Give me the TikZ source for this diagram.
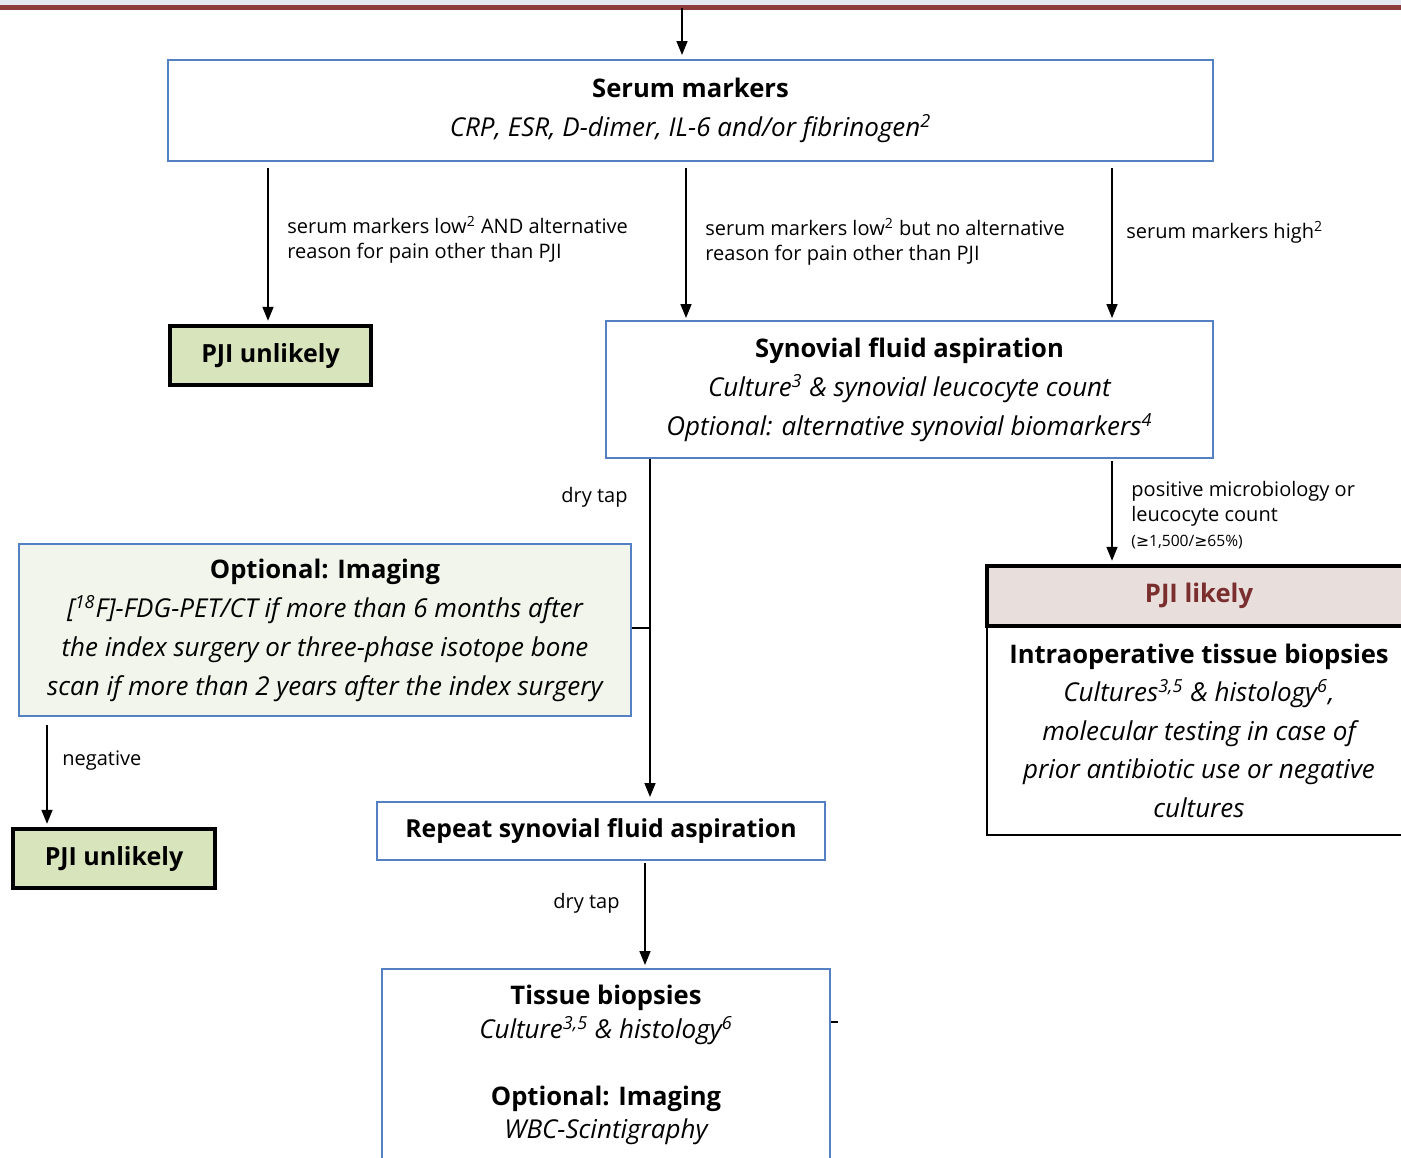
\documentclass[tikz,border=0pt]{standalone}
\usepackage{fontspec}
\setmainfont{Open Sans}
\newfontfamily\symf{DejaVu Sans}
\usetikzlibrary{arrows.meta}
\definecolor{bbord}{RGB}{84,128,196}
\definecolor{gfill}{RGB}{216,228,188}
\definecolor{ifill}{RGB}{242,245,235}
\definecolor{lfill}{RGB}{232,222,220}
\definecolor{ltext}{RGB}{122,46,46}
\definecolor{barred}{RGB}{140,60,60}
\definecolor{bargray}{RGB}{228,232,240}
\newcommand{\ttl}[1]{{\fontsize{12.8}{14}\selectfont\bfseries #1}}
\newcommand{\sups}[1]{\textsuperscript{\fontsize{9}{9}\selectfont #1}}
\tikzset{
  bluebox/.style={draw=bbord, line width=1pt, rectangle, inner sep=0pt, align=center,
    font=\fontsize{13}{19.5}\selectfont},
  greenbox/.style={draw=black, fill=gfill, line width=2.2pt, rectangle, inner sep=0pt,
    font=\fontsize{12.5}{14}\selectfont\bfseries},
  lbl/.style={inner sep=0pt, align=left, font=\fontsize{10}{12.5}\selectfont},
  arr/.style={-{Triangle[length=7pt,width=5.5pt]}, line width=0.8pt},
  plain/.style={line width=0.8pt}
}
\begin{document}
\begin{tikzpicture}[x=0.5pt,y=-0.5pt]
\useasboundingbox (0,0) rectangle (1401,1157);
% top band
\fill[bargray] (0,0) rectangle (1401,5);
\fill[barred] (0,5) rectangle (1401,10);

% boxes
\node[bluebox, minimum width=522.5pt, minimum height=50.5pt] (serum) at (690.5,110.5)
  {\ttl{Serum markers}\\\itshape CRP, ESR, D-dimer, IL-6 and/or fibrinogen\sups{2}};
\node[greenbox, minimum width=100.5pt, minimum height=29.5pt] (unl1) at (270.5,355.5) {PJI unlikely};
\node[bluebox, minimum width=303.5pt, minimum height=68.5pt] (syn) at (909.5,389.5)
  {\ttl{Synovial fluid aspiration}\\\itshape Culture\sups{3} \& synovial leucocyte count\\\itshape Optional: alternative synovial biomarkers\sups{4}};
\node[bluebox, fill=ifill, minimum width=306pt, minimum height=86pt] (img) at (325,630)
  {\ttl{Optional: Imaging}\\\itshape [\sups{18}F]-FDG-PET/CT if more than 6 months after\\\itshape the index surgery or three-phase isotope bone\\\itshape scan if more than 2 years after the index surgery};
\node[greenbox, minimum width=101pt, minimum height=29.5pt] (unl2) at (114,858.5) {PJI unlikely};
\node[bluebox, minimum width=224pt, minimum height=29pt, font=\fontsize{12.4}{14}\selectfont\bfseries] (rep) at (601,831) {Repeat synovial fluid aspiration};
\node[bluebox, minimum width=224pt, minimum height=96pt, font=\fontsize{13}{16.75}\selectfont] (tis) at (606,1065)
  {\ttl{Tissue biopsies}\\\itshape Culture\sups{3,5} \& histology\sups{6}\\[16.75pt]\ttl{Optional: Imaging}\\\itshape WBC-Scintigraphy};
\node[draw=black, line width=1pt, rectangle, inner sep=0pt, align=center, minimum width=212pt, minimum height=104.5pt,
  font=\fontsize{13}{19.25}\selectfont] (intra) at (1199,730.5)
  {\ttl{Intraoperative tissue biopsies}\\\itshape Cultures\sups{3,5} \& histology\sups{6},\\\itshape molecular testing in case of\\\itshape prior antibiotic use or negative\\\itshape cultures};
\node[draw=black, fill=lfill, line width=2.2pt, rectangle, inner sep=0pt, minimum width=212pt, minimum height=30pt,
  text=ltext, font=\fontsize{12.8}{14}\selectfont\bfseries] (likely) at (1199,596) {PJI likely};

% x-positions of connectors
\coordinate (xtop) at (682,8);
\coordinate (xa) at (268,0);
\coordinate (xb) at (686,0);
\coordinate (xc) at (1112,0);
\coordinate (xd) at (650,0);
\coordinate (xe) at (47,0);
\coordinate (xf) at (645,0);

% connectors
\draw[arr] (xtop) -- ([yshift=2pt]xtop |- serum.north);
\draw[arr, shorten <=3pt, shorten >=1.5pt] (serum.south -| xa) -- (unl1.north -| xa);
\draw[arr, shorten <=3pt, shorten >=1pt] (serum.south -| xb) -- (syn.north -| xb);
\draw[arr, shorten <=3pt, shorten >=1pt] (serum.south -| xc) -- (syn.north -| xc);
\draw[arr, shorten >=2pt] (syn.south -| xd) -- (rep.north -| xd);
\draw[plain] ([yshift=1pt]img.east) -- ([yshift=1pt]img.east -| xd);
\draw[arr, shorten <=4pt, shorten >=1.5pt] (img.south -| xe) -- (unl2.north -| xe);
\draw[arr, shorten <=1pt, shorten >=1.5pt] (rep.south -| xf) -- (tis.north -| xf);
\draw[arr, shorten <=1pt, shorten >=1.5pt] (syn.south -| xc) -- (likely.north -| xc);
\coordinate (tick) at (838,1022);
\draw[plain] (tick -| tis.east) -- (tick);

% labels
\node[lbl, anchor=west] (l1) at (287,239.5) {serum markers low\textsuperscript{2} AND alternative\\reason for pain other than PJI};
\node[lbl, anchor=west] (l2) at (705,242) {serum markers low\textsuperscript{2} but no alternative\\reason for pain other than PJI};
\node[lbl, anchor=west] (l3) at (1126,232) {serum markers high\textsuperscript{2}};
\node[lbl, anchor=east] (l4) at (628,497) {dry tap};
\node[lbl, anchor=west] (l5) at (62,761) {negative};
\node[lbl, anchor=east] (l6) at (620,903) {dry tap};
\node[lbl, anchor=west] (l7) at (1131,503.5) {positive microbiology or\\leucocyte count};
\node[lbl, anchor=west, font=\fontsize{7.8}{9}\selectfont] (l8) at (1131,542) {({\symf ≥}1,500/{\symf ≥}65\%)};
\end{tikzpicture}
\end{document}
